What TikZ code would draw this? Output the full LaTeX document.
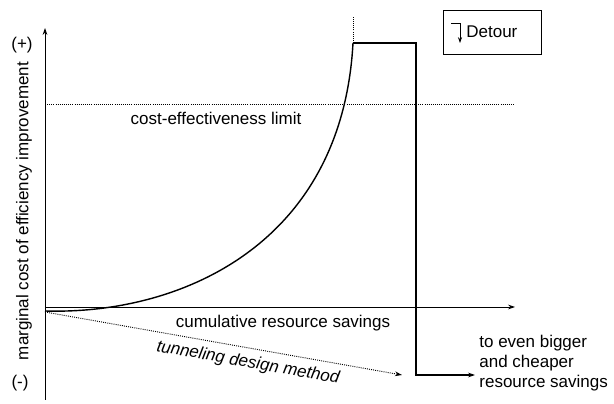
\documentclass[tikz,border=0pt]{standalone}
\usepackage{fontspec}
\setmainfont{Liberation Sans}
\usetikzlibrary{arrows.meta,positioning,calc}
\tikzset{
  lbl/.style={font=\fontsize{14.5}{17}\selectfont, inner sep=1pt},
  thinax/.style={line width=0.7pt, -{Stealth[length=6pt,width=4pt]}},
  costline/.style={line width=1.2pt},
  dots/.style={densely dotted, line width=0.8pt}
}

\begin{document}
\begin{tikzpicture}[x=0.03cm, y=-0.03cm]
    \useasboundingbox (0,0) rectangle (614,404);
    % axes
    \coordinate (O) at (45,309);
    \coordinate (ytop) at (45,28);
    \coordinate (ybot) at (45,400);
    \coordinate (xend) at (515,307);
    \draw[thinax, {Stealth[length=6pt,width=4pt]}-] (ytop) -- (ybot);
    \draw[thinax] (45,307) -- (xend);
    \node[lbl] (plus) at (22,45) {(+)};
    \node[lbl] (minus) at (20,383) {(-)};
    \node[lbl, rotate=90] (ylab) at (24,211) {marginal cost of efficiency improvement};
    % cost-effectiveness limit
    \draw[dots] (45,104) -- (515,104);
    \node[lbl] (limit) at (216,118) {cost-effectiveness limit};
    \node[lbl] (xlab) at (283,323) {cumulative resource savings};
    % rising marginal cost, then the detour
    \coordinate (peak) at (353,43);
    \coordinate (drop) at (416,43);
    \coordinate (low) at (416,375);
    \coordinate (far) at (475,375);
    \draw[costline] (45,311) .. controls (180,315) and (342,245) .. (peak);
    \draw[dots] (peak) -- (353,16);
    \draw[costline, -{Stealth[length=6pt,width=4pt]}] (peak) -- (drop) -- (low) -- (far);
    \node[lbl, anchor=west, align=left] (bigger) at (478,363)
         {to even bigger\\and cheaper\\resource savings};
    % tunneling
    \draw[dots, -{Stealth[length=6pt,width=4pt]}] (45,312) -- (402,375);
    \node[lbl, font=\fontsize{14.5}{17}\selectfont\itshape, rotate=-10] (tunnel) at (248,363)
         {tunneling design method};
    % legend
    \draw[line width=0.6pt] (443,10) rectangle (541,54);
    \draw[line width=0.6pt, -{Stealth[length=5pt,width=3.5pt]}] (451,23) -- (460,23) -- (460,43);
    \node[lbl, anchor=west] (detour) at (465,32) {Detour};
  \end{tikzpicture}
\end{document}
